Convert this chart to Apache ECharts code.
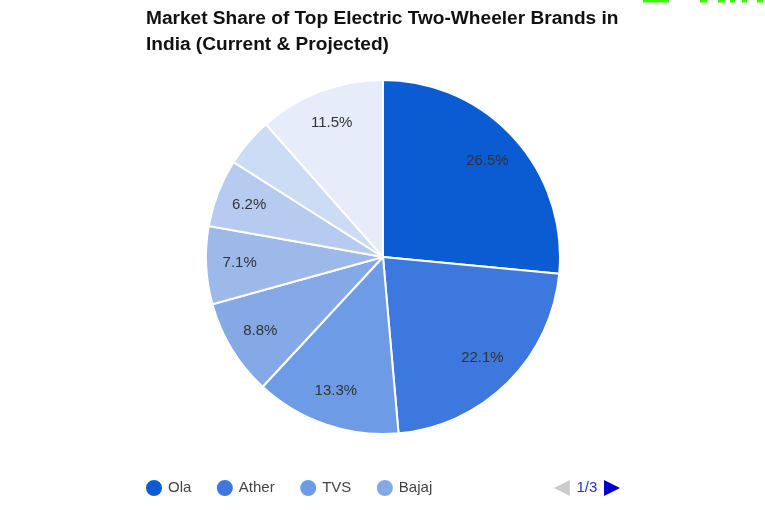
<!DOCTYPE html>
<html>
<head>
<meta charset="utf-8">
<style>html,body{margin:0;padding:0;background:#fff}#main{width:765px;height:510px}</style>
<script src="https://cdn.jsdelivr.net/npm/echarts@6/dist/echarts.min.js"></script>
</head>
<body>
<div id="main"></div>
<script>
var brands = ['Ola', 'Ather', 'TVS', 'Bajaj', 'Hero Electric', 'Ampere', 'Okinawa', 'Others'];
var shares = [26.5, 22.1, 13.3, 8.8, 7.1, 6.2, 4.5, 11.5];
var colors = ['#0b5bd3', '#3d78de', '#6d9be6', '#85a9e6', '#9db9ea', '#b7cbf0', '#cddcf5', '#e6ecf9'];
var titleText = 'Market Share of Top Electric Two-Wheeler Brands in\nIndia (Current & Projected)';

var pieData = brands.map(function (name, i) {
  return { name: name, value: shares[i] };
});

// the cut-off green strip along the top edge of the screenshot
var greenStrip = [[643, 26], [700, 7], [718, 7], [730, 5], [742, 5], [757, 6]];

var chart = echarts.init(document.getElementById('main'), null, { renderer: 'canvas' });
chart.setOption({
  animation: false,
  color: colors,
  textStyle: { fontFamily: '"Liberation Sans", Arial, sans-serif' },
  title: {
    text: titleText,
    left: 146,
    top: 6,
    padding: 0,
    textStyle: { fontSize: 19.1, fontWeight: 'bold', color: '#111', lineHeight: 26, fontFamily: '"Liberation Sans", Arial, sans-serif' }
  },
  legend: {
    type: 'scroll',
    data: brands,
    left: 144,
    width: 476,
    top: 478,
    padding: 0,
    icon: 'circle',
    itemWidth: 18,
    itemHeight: 20,
    itemGap: 23.5,
    textStyle: { fontSize: 15, color: '#444' },
    pageIcons: {
      horizontal: ['path://M16,0L0,8L16,16Z', 'path://M0,0L16,8L0,16Z']
    },
    pageIconColor: '#0000cc',
    pageIconInactiveColor: '#ccc',
    pageIconSize: 16,
    pageButtonItemGap: 0,
    pageButtonGap: 100,
    pageTextStyle: { color: '#2233cc', fontSize: 15 },
    pageFormatter: '{current}/{total}'
  },
  graphic: greenStrip.map(function (s) {
    return { type: 'rect', left: s[0], top: 0, shape: { width: s[1], height: 2.5 }, style: { fill: '#3cf500' }, silent: true };
  }),
  series: [
    {
      type: 'pie',
      center: [383, 257],
      radius: [0, 177],
      startAngle: 90,
      clockwise: true,
      data: pieData,
      label: { show: false },
      labelLine: { show: false },
      itemStyle: { borderColor: '#fff', borderWidth: 2 },
      emphasis: { disabled: true }
    },
    {
      // transparent ring, only there to put the labels further out than the pie's middle
      type: 'pie',
      center: [382, 256.5],
      radius: [103, 176],
      startAngle: 90,
      clockwise: true,
      silent: true,
      data: pieData,
      itemStyle: { color: 'transparent' },
      label: {
        show: true,
        position: 'inside',
        fontSize: 15,
        color: '#333',
        formatter: function (p) { return p.value < 5 ? '' : p.value.toFixed(1) + '%'; }
      },
      labelLine: { show: false },
      emphasis: { disabled: true }
    }
  ]
});
</script>
</body>
</html>
